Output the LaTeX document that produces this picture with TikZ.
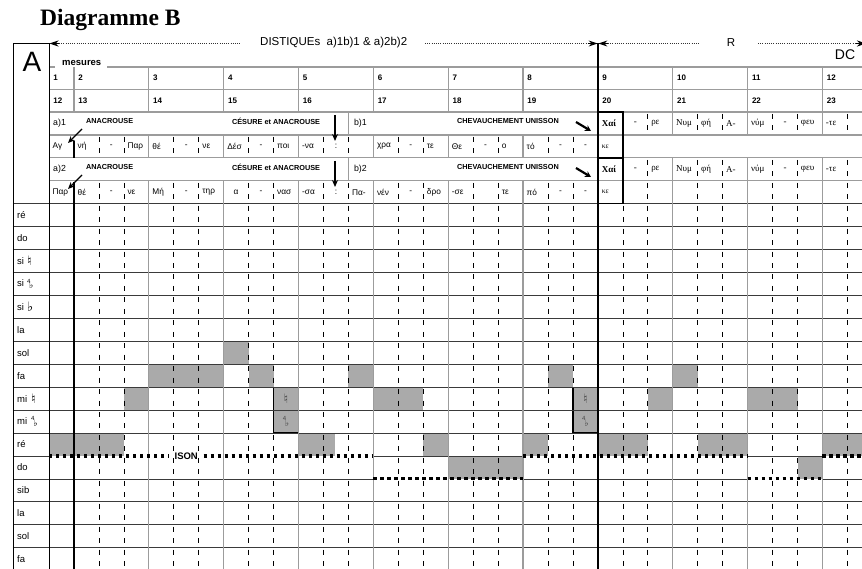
\documentclass[tikz,border=0pt]{standalone}
\usepackage{fontspec}
\setmainfont{Liberation Serif}
\setsansfont{Liberation Sans}
\newfontfamily\symfont{DejaVu Sans}
\usetikzlibrary{arrows.meta}
\definecolor{gridgray}{HTML}{9C9C9C}
\definecolor{fillgray}{HTML}{AAAAAA}
\definecolor{linedark}{HTML}{3A3A3A}
\definecolor{symgray}{HTML}{444444}
\newcommand{\natsym}{\raisebox{-1pt}{\symfont\fontsize{13}{13}\selectfont ♮}}
\newcommand{\fltsym}{\raisebox{-1pt}{\symfont\fontsize{13}{13}\selectfont ♭}}
\newcommand{\qfltsym}{\raisebox{3.5pt}{\sffamily\fontsize{6}{6}\selectfont 4}\kern-1.2pt\raisebox{-1.8pt}{\symfont\fontsize{9}{9}\selectfont ♭}}
\begin{document}
\begin{tikzpicture}[x=1pt,y=-1pt,
  mline/.style={gridgray,line width=1.3pt},
  hline/.style={linedark,line width=0.75pt},
  hgray/.style={gridgray,line width=1.2pt},
  subline/.style={black,line width=0.65pt,dash pattern=on 5pt off 6.46pt},
  blk/.style={black,line width=1.4pt},
  frame/.style={black,line width=0.9pt},
  isonline/.style={black,line width=3.2pt,dash pattern=on 3.3pt off 3.7pt},
  dotline/.style={black!80,line width=0.8pt,dash pattern=on 0.8pt off 1.4pt},
  toparrow/.style={black,line width=0.9pt,-{Stealth[length=9pt,width=6pt]}},
  smallarrow/.style={black,line width=1.3pt,-{Stealth[length=7pt,width=6pt]}},
  boldarrow/.style={black,line width=2.2pt,-{Stealth[length=6pt,width=6.5pt]}},
  txt/.style={inner sep=0pt,anchor=west},
  pitch/.style={txt,font=\sffamily\fontsize{9.5}{10}\selectfont},
  num/.style={txt,font=\sffamily\bfseries\fontsize{8}{9}\selectfont},
  caps/.style={txt,font=\sffamily\bfseries\fontsize{7.3}{8}\selectfont},
  sect/.style={txt,font=\sffamily\fontsize{8.8}{9}\selectfont},
  gk/.style={txt,font=\sffamily\fontsize{8.3}{9}\selectfont},
  gkc/.style={inner sep=0pt,font=\sffamily\fontsize{8.3}{9}\selectfont},
  gr/.style={txt,font=\rmfamily\fontsize{9}{9}\selectfont},
  grc/.style={inner sep=0pt,font=\rmfamily\fontsize{9}{9}\selectfont},
]
\useasboundingbox (0,0) rectangle (862,569);
\fill[white] (0,0) rectangle (862,569);

% ---------- title and top line ----------
\node[inner sep=0pt,anchor=base west,font=\rmfamily\bfseries\fontsize{23.5}{24}\selectfont] (title) at (40,26) {Diagramme B};
\node[inner sep=0pt,font=\sffamily\fontsize{28}{28}\selectfont] (Alab) at (32,62) {A};
\node[inner sep=0pt,font=\sffamily\fontsize{14}{14}\selectfont] (DC) at (845,55) {DC};
\node[txt,font=\sffamily\fontsize{11.5}{12}\selectfont] (dist) at (260,43) {DISTIQUEs\ \ a)1b)1 \& a)2b)2};
\node[inner sep=0pt,font=\sffamily\fontsize{11.5}{12}\selectfont] (Rlab) at (731,43) {R};
\node[txt,font=\sffamily\bfseries\fontsize{9.5}{10}\selectfont] (mes) at (62,63) {mesures};

\coordinate (TL) at (49.5,43.5);  \coordinate (TLa) at (59,43.5);
\coordinate (D1e) at (240,43.5);  \coordinate (D2s) at (425,43.5);
\coordinate (M1a) at (588,43.5);  \coordinate (M1) at (597.6,43.5);
\coordinate (M2a) at (608,43.5);  \coordinate (M2) at (598.4,43.5);
\coordinate (R1e) at (700,43.5);  \coordinate (R2s) at (758,43.5);
\coordinate (TRa) at (856,43.5);  \coordinate (TR) at (866,43.5);
\draw[dotline] (TLa) -- (D1e);
\draw[dotline] (D2s) -- (M1a);
\draw[dotline] (M2a) -- (R1e);
\draw[dotline] (R2s) -- (TRa);
\draw[toparrow] (TLa) -- (TL);
\draw[toparrow] (M1a) -- (M1);
\draw[toparrow] (M2a) -- (M2);
\draw[toparrow] (TRa) -- (TR);

\draw[hgray] (49,67) -- (55,67);
\draw[hgray] (107,67) -- (870,67);
\draw[hgray] (49,89.5) -- (870,89.5);

% ---------- grid ----------
\begin{scope}[shift={(49,112)},x=24.95pt,y=-22.93pt]
% fills
\foreach \i/\k/\w in {7/10/1, 4/11/3, 8/11/1, 12/11/1, 20/11/1, 25/11/1,
  3/12/1, 13/12/2, 24/12/1, 28/12/2,
  0/14/3, 10/14/1.48, 15/14/1, 19/14/1, 22/14/2, 26/14/2, 31/14/3,
  16/15/3, 30/15/1}
  \fill[fillgray] (\i,\k) rectangle ++(\w,1);
\filldraw[fill=fillgray,draw=black,line width=1.3pt] (9,12) rectangle (10,14);
\filldraw[fill=fillgray,draw=black,line width=1.3pt] (21,12) rectangle (22,14);

% horizontal lines
\foreach \k in {0,1,2,3} \draw[hgray] (0,\k) -- (33.2,\k);
\foreach \k in {4,5,6,7,8,9,10,11,12,13,14,17,18,19,20} \draw[hline] (-1.443,\k) -- (33.2,\k);
\draw[hline] (-1.443,15) -- (0,15);
\draw[hline] (13,15) -- (19,15);
\draw[hline] (28,15) -- (31,15);
\draw[hline] (-1.443,16) -- (13,16);
\draw[hline] (19,16) -- (28,16);
\draw[hline] (31,16) -- (33.2,16);

% vertical measure lines
\draw[mline] (1,-1.963) -- (1,0);
\foreach \i in {4,7,10,13,16,19} {
  \draw[mline] (\i,-1.963) -- (\i,0);
  \draw[mline] (\i,1) -- (\i,2);
  \draw[mline] (\i,3) -- (\i,20);
}
\foreach \i in {25,28,31} {
  \draw[mline] (\i,-1.963) -- (\i,1);
  \draw[mline] (\i,2) -- (\i,20);
}
\draw[mline] (12,0) -- (12,1);
\draw[mline] (12,2) -- (12,3);

% subdivision dashed lines
\foreach \i in {2,3,5,6,8,9,11,12,14,15,17,18,20,21}
  \draw[subline] (\i,1.087) -- (\i,2);
\foreach \i in {23,24,26,27,29,30,32,33} {
  \draw[subline] (\i,0.087) -- (\i,1);
  \draw[subline] (\i,2.087) -- (\i,3);
}
\foreach \i in {2,3,5,6,8,9,11,12,14,15,17,18,20,21,23,24,26,27,29,30,32,33}
  \draw[subline] (\i,3.087) -- (\i,20);

% ison dotted lines
\node[inner sep=1pt,font=\sffamily\bfseries\fontsize{9.5}{10}\selectfont] (ison) at (5.5,15) {ISON};
\coordinate (is1) at (0,15);   \coordinate (is2) at (4.8,15);
\coordinate (is3) at (6.2,15); \coordinate (is4) at (13,15);
\coordinate (is5) at (13,16);  \coordinate (is6) at (19,16);
\coordinate (is7) at (19,15);  \coordinate (is8) at (28,15);
\coordinate (is9) at (28,16);  \coordinate (is10) at (31,16);
\coordinate (is11) at (31,15); \coordinate (is12) at (33.2,15);
\draw[isonline] (is1) -- (is2);
\draw[isonline] (is3) -- (is4);
\draw[isonline] (is5) -- (is6);
\draw[isonline] (is7) -- (is8);
\draw[isonline] (is9) -- (is10);
\draw[isonline] (is11) -- (is12);

% black lines and frames
\draw[frame] (-1.443,20) -- (-1.443,-3.009) -- (0,-3.009) -- (0,20);
\draw[blk] (22,-3.009) -- (22,20);
\draw[blk] (1,1.27) -- (1,2);
\draw[blk] (1,3.05) -- (1,20);
\draw[blk] (22,0) rectangle (23,2);
\draw[blk] (22,2) rectangle (23,4);

% measure numbers
\foreach \i/\a/\b in {0/1/12, 1/2/13, 4/3/14, 7/4/15, 10/5/16, 13/6/17, 16/7/18, 19/8/19, 22/9/20, 25/10/21, 28/11/22, 31/12/23} {
  \node[num] (ma\a) at (\i+0.17,-1.483) {\a};
  \node[num] (mb\b) at (\i+0.17,-0.5) {\b};
}

% section rows
\foreach \k/\n in {0/1, 2/2} {
  \node[sect] (sa\n) at (0.16,\k+0.5) {a)\n};
  \node[caps] (an\n) at (1.48,\k+0.4) {ANACROUSE};
  \node[caps] (ce\n) at (7.33,\k+0.4) {CÉSURE et ANACROUSE};
  \node[sect] (sb\n) at (12.22,\k+0.5) {b)\n};
  \node[caps] (ch\n) at (16.35,\k+0.4) {CHEVAUCHEMENT UNISSON};
  \node[gr,font=\rmfamily\bfseries\fontsize{9}{9}\selectfont] (xa\n) at (22.15,\k+0.5) {Χαί};
  \node[gr,font=\rmfamily\fontsize{7.5}{8}\selectfont] (ke\n) at (22.15,\k+1.5) {κε};
  \foreach \i/\t in {24/ρε, 25/Νυμ, 26/φή, 27/Α-, 28/νύμ, 30/φευ, 31/-τε}
    \node[gr] (r\n-\i) at (\i+0.13,\k+0.5) {\t};
  \foreach \i in {23,29}
    \node[grc] (rc\n-\i) at (\i+0.5,\k+0.5) {-};
}

% lyric row 1
\foreach \i/\t in {0/Αγ, 1/νή, 3/Παρ, 4/θέ, 6/νε, 7/Δέσ, 9/ποι, 10/-να, 13/χρα, 15/τε, 16/Θε, 18/ο, 19/τό}
  \node[gk] (la\i) at (\i+0.14,1.5) {\t};
\foreach \i/\t in {2/-, 5/-, 8/-, 11/:, 14/-, 17/-, 20/-, 21/-}
  \node[gkc] (lac\i) at (\i+0.5,1.5) {\t};
% lyric row 2
\foreach \i/\t in {0/Παρ, 1/θέ, 3/νε, 4/Μή, 6/τηρ, 9/νασ, 10/-σα, 12/Πα-, 13/νέν, 15/δρο, 16/-σε, 18/τε, 19/πό}
  \node[gk] (lb\i) at (\i+0.14,3.5) {\t};
\foreach \i/\t in {2/-, 5/-, 7/α, 8/-, 11/:, 14/-, 20/-, 21/-}
  \node[gkc] (lbc\i) at (\i+0.5,3.5) {\t};

% pitch labels
\foreach \k/\t in {4/ré, 5/do, 9/la, 10/sol, 11/fa, 14/ré, 15/do, 16/sib, 17/la, 18/sol, 19/fa}
  \node[pitch] (p\k) at (-1.283,\k+0.5) {\t};
\node[pitch] (p6) at (-1.283,6.5) {si\hspace{3pt}\natsym};
\node[pitch] (p7) at (-1.283,7.5) {si\hspace{3pt}\qfltsym};
\node[pitch] (p8) at (-1.283,8.5) {si\hspace{3pt}\fltsym};
\node[pitch] (p12) at (-1.283,12.5) {mi\hspace{4pt}\natsym};
\node[pitch] (p13) at (-1.283,13.5) {mi\hspace{4pt}\qfltsym};

% accidentals in boxed cells
\node[inner sep=0pt,text=symgray] (bx1a) at (9.5,12.5) {\natsym};
\node[inner sep=0pt,text=symgray] (bx1b) at (9.5,13.5) {\qfltsym};
\node[inner sep=0pt,text=symgray] (bx2a) at (21.5,12.5) {\natsym};
\node[inner sep=0pt,text=symgray] (bx2b) at (21.5,13.5) {\qfltsym};
\end{scope}

% ---------- arrows ----------
\coordinate (da1s) at (82,129); \coordinate (da1e) at (68,143);
\coordinate (da2s) at (82,175); \coordinate (da2e) at (68,189);
\coordinate (dn1s) at (335,115); \coordinate (dn1e) at (335,141);
\coordinate (dn2s) at (335,161); \coordinate (dn2e) at (335,187);
\coordinate (se1s) at (576,122); \coordinate (se1e) at (591,131);
\coordinate (se2s) at (576,168); \coordinate (se2e) at (591,177);
\draw[smallarrow] (da1s) -- (da1e);
\draw[smallarrow] (da2s) -- (da2e);
\draw[smallarrow] (dn1s) -- (dn1e);
\draw[smallarrow] (dn2s) -- (dn2e);
\draw[boldarrow] (se1s) -- (se1e);
\draw[boldarrow] (se2s) -- (se2e);
\end{tikzpicture}
\end{document}
